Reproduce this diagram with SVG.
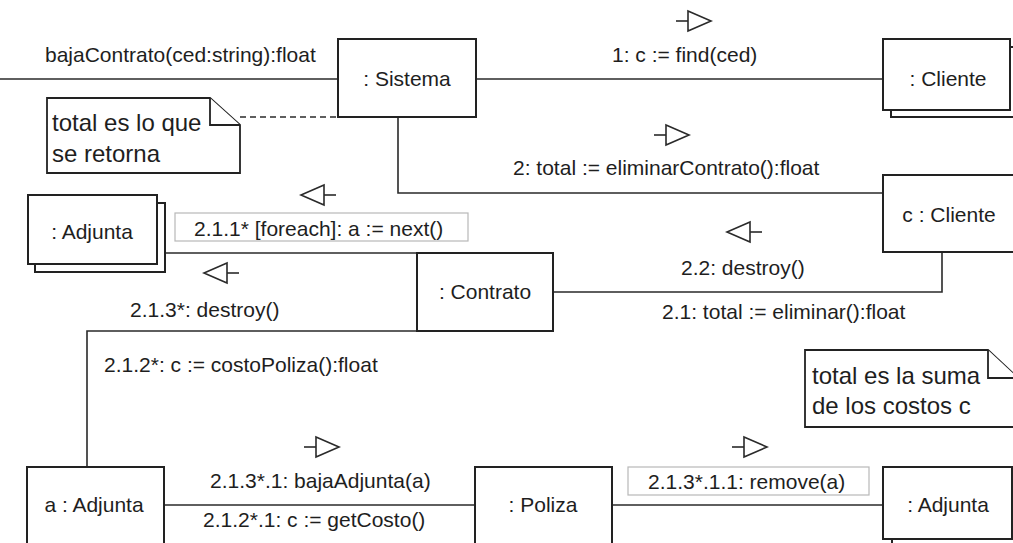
<svg xmlns="http://www.w3.org/2000/svg" width="1013" height="543" viewBox="0 0 1013 543">
  <style>
    text { font-family: "Liberation Sans", Arial, sans-serif; font-size: 21px; fill: #1e1e1e; }
    .mid { text-anchor: middle; }
    .note-text { font-size: 24px; }
    .box { fill: #ffffff; stroke: #222222; stroke-width: 2; }
    .link { fill: none; stroke: #2a2a2a; stroke-width: 1.6; }
    .dash { fill: none; stroke: #2a2a2a; stroke-width: 1.6; stroke-dasharray: 6 4; }
    .msgbox { fill: #ffffff; stroke: #b8b8b8; stroke-width: 1.2; }
    .arrow { fill: #ffffff; stroke: #2a2a2a; stroke-width: 1.6; stroke-linejoin: miter; }
    .note { fill: #ffffff; stroke: #222222; stroke-width: 1.8; stroke-linejoin: miter; }
  </style>
  <defs>
    <!-- message direction arrows: short tail plus open triangle -->
    <g id="arrow-right">
      <path class="link" d="M-12,0 H0"/>
      <path class="arrow" d="M0,-10 L23,0 L0,10 Z"/>
    </g>
    <g id="arrow-left">
      <path class="link" d="M12,0 H0"/>
      <path class="arrow" d="M0,-10 L-23,0 L0,10 Z"/>
    </g>
  </defs>

  <rect width="1013" height="543" fill="#ffffff"/>

  <!-- links between objects -->
  <g id="connectors">
    <path class="link" d="M0,79 H338"/>
    <path class="link" d="M476,79 H883"/>
    <path class="link" d="M398,117 V193 H883"/>
    <path class="link" d="M553,292 H942 V252"/>
    <path class="link" d="M165,253 H417"/>
    <path class="link" d="M417,331 H87 V467"/>
    <path class="link" d="M164,505 H475"/>
    <path class="link" d="M612,505 H883"/>
    <path class="dash" d="M240,117 H338"/>
  </g>

  <!-- messages -->
  <g id="messages">
    <text x="45" y="62">bajaContrato(ced:string):float</text>

    <use href="#arrow-right" x="688" y="21"/>
    <text x="612" y="62">1: c := find(ced)</text>

    <use href="#arrow-right" x="666" y="135"/>
    <text x="513" y="175">2: total := eliminarContrato():float</text>

    <use href="#arrow-left" x="324" y="195"/>
    <rect class="msgbox" x="175" y="213" width="293" height="28"/>
    <text x="194" y="236">2.1.1* [foreach]: a := next()</text>

    <use href="#arrow-left" x="227" y="273"/>
    <text x="130" y="317">2.1.3*: destroy()</text>

    <use href="#arrow-left" x="750" y="232"/>
    <text x="681" y="275">2.2: destroy()</text>
    <text x="662" y="319">2.1: total := eliminar():float</text>

    <text x="104" y="372">2.1.2*: c := costoPoliza():float</text>

    <use href="#arrow-right" x="316" y="447"/>
    <text x="210" y="488">2.1.3*.1: bajaAdjunta(a)</text>
    <text x="203" y="527">2.1.2*.1: c := getCosto()</text>

    <use href="#arrow-right" x="744" y="447"/>
    <rect class="msgbox" x="628" y="467" width="241" height="28"/>
    <text x="648" y="489">2.1.3*.1.1: remove(a)</text>
  </g>

  <!-- objects -->
  <g id="sistema">
    <rect class="box" x="338" y="39" width="138" height="78"/>
    <text class="mid" x="407" y="86">: Sistema</text>
  </g>

  <g id="clientes">
    <rect class="box" x="891" y="47" width="127" height="70"/>
    <rect class="box" x="883" y="39" width="127" height="71"/>
    <text class="mid" x="948" y="86">: Cliente</text>
  </g>

  <g id="cliente-c">
    <rect class="box" x="883" y="175" width="135" height="77"/>
    <text class="mid" x="949" y="222">c : Cliente</text>
  </g>

  <g id="adjuntas">
    <rect class="box" x="35" y="203" width="130" height="69"/>
    <rect class="box" x="28" y="195" width="129" height="69"/>
    <text class="mid" x="92" y="239">: Adjunta</text>
  </g>

  <g id="contrato">
    <rect class="box" x="417" y="253" width="136" height="78"/>
    <text class="mid" x="485" y="299">: Contrato</text>
  </g>

  <g id="adjunta-a">
    <rect class="box" x="27" y="467" width="137" height="80"/>
    <text class="mid" x="94" y="512">a : Adjunta</text>
  </g>

  <g id="poliza">
    <rect class="box" x="475" y="467" width="137" height="80"/>
    <text class="mid" x="543" y="512">: Poliza</text>
  </g>

  <g id="adjuntas-poliza">
    <rect class="box" x="892" y="475" width="128" height="72"/>
    <rect class="box" x="883" y="467" width="129" height="72"/>
    <text class="mid" x="948" y="512">: Adjunta</text>
  </g>

  <!-- notes -->
  <g id="note-total">
    <path class="note" d="M47,98 H210 L240,125 V173 H47 Z"/>
    <path class="note" d="M210,98 V125 H240" fill="none"/>
    <text class="note-text" x="52" y="131">total es lo que</text>
    <text class="note-text" x="52" y="162">se retorna</text>
  </g>

  <g id="note-suma">
    <path class="note" d="M805,350 H988 L1018,378 V427 H805 Z"/>
    <path class="note" d="M988,350 V378 H1018" fill="none"/>
    <text class="note-text" x="812" y="384">total es la suma</text>
    <text class="note-text" x="812" y="414">de los costos c</text>
  </g>
</svg>
